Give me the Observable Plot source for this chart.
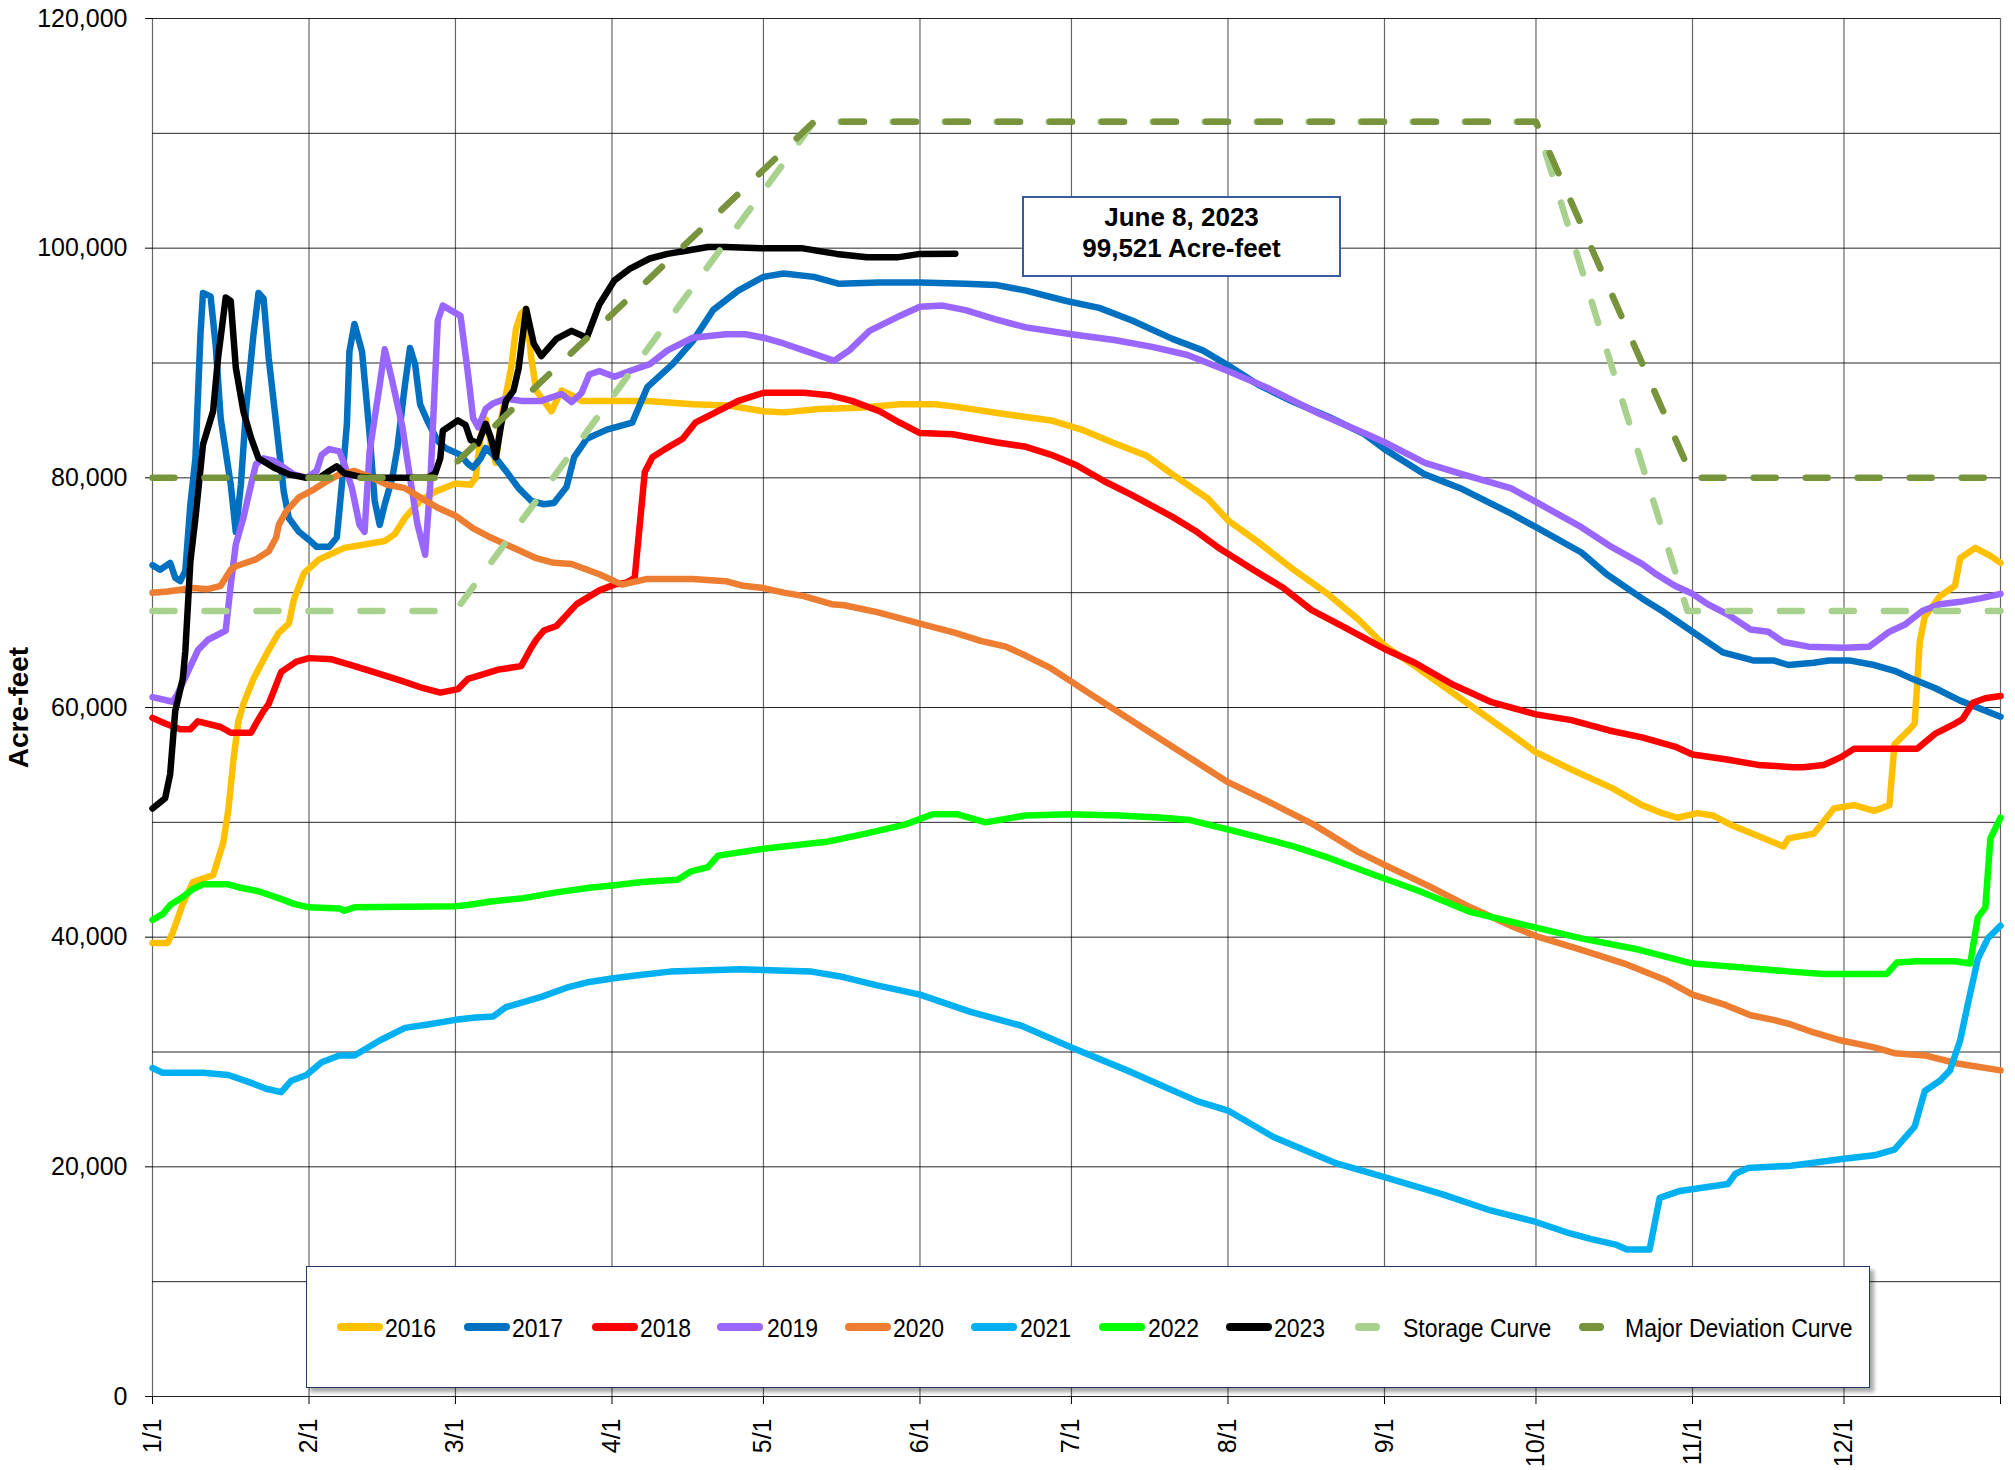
<!DOCTYPE html>
<html>
<head>
<meta charset="utf-8">
<script src="https://cdn.jsdelivr.net/npm/d3@7"></script>
<script src="https://cdn.jsdelivr.net/npm/@observablehq/plot@0.6"></script>
<style>
html, body { margin: 0; padding: 0; background: #fff; }
#wrap { position: relative; width: 2015px; height: 1470px; font-family: "Liberation Sans", Arial, sans-serif; }
#wrap svg { position: absolute; left: 0; top: 0; }
.legend { position: absolute; left: 306px; top: 1266px; width: 1564px; height: 122px; box-sizing: border-box;
  border: 1.5px solid #1F3864; background: #fff; box-shadow: 4px 4px 4px rgba(0,0,0,0.35); }
.sw { position: absolute; height: 8px; border-radius: 4px; top: 56px; }
.lt { position: absolute; top: 46px; height: 30px; line-height: 30px; font-size: 25px; color: #000;
  white-space: nowrap; transform: scaleX(0.92); transform-origin: left center; }
.note { position: absolute; left: 1022px; top: 196px; width: 319px; height: 81px; box-sizing: border-box;
  border: 2px solid #3A5A9E; background: #fff; padding-top: 4px; text-align: center;
  font-weight: bold; font-size: 26px; line-height: 31px; color: #000; }
</style>
</head>
<body>
<div id="wrap"></div>
<script>
// ---------- data (x = calendar day index from Jan 1, Feb counted as 28 days; y = acre-feet) ----------
const s2016 = [[0,39500],[3,39500],[4,40400],[6,42900],[8,44800],[12,45400],[14,48200],[15,51000],[16,55300],[17,58800],[18,60300],[20,62500],[23,65000],[25,66500],[27,67300],[28,69400],[30,71700],[33,72900],[35,73300],[38,73900],[42,74200],[46,74500],[48,75100],[50,76500],[53,78000],[56,78800],[59,79500],[62,79400],[63,80000],[64,83600],[65,85100],[66,83000],[67,81300],[68,85000],[70,89500],[71,93000],[72,94300],[73,94700],[74,90500],[75,87600],[77,86400],[78,85800],[80,87600],[82,87200],[84,86700],[90,86700],[97,86700],[106,86400],[113,86300],[120,85800],[124,85700],[131,86000],[139,86100],[147,86400],[154,86400],[158,86200],[167,85600],[177,85000],[183,84200],[189,83100],[196,81900],[201,80300],[208,78200],[212,76300],[218,74400],[225,72000],[232,69800],[238,67600],[243,65400],[249,63600],[259,60500],[268,57700],[273,56100],[280,54600],[288,53000],[294,51500],[298,50800],[301,50400],[305,50800],[308,50600],[312,49700],[317,48800],[322,47900],[323,48600],[328,49000],[330,50100],[332,51200],[336,51500],[340,51000],[343,51500],[344,56800],[347,58100],[348,58600],[349,65700],[350,67900],[353,69700],[356,70600],[357,73000],[360,73900],[363,73200],[365,72600]];

const s2017 = [[0,72400],[1.5,72000],[3.5,72600],[4.5,71300],[5.5,71000],[6.5,71900],[7.5,77700],[8.5,81700],[9.5,92500],[10,96100],[11.5,95800],[12.5,91600],[13.5,85200],[15.5,79400],[16.5,75300],[17.5,79400],[18.5,85800],[20,92500],[21,96100],[22,95600],[23,90500],[24.5,84700],[26,78800],[27,76500],[29,75300],[31,74600],[32.5,74000],[35,74000],[36.5,74800],[37.5,79400],[38.5,84700],[39,91000],[40,93400],[41.5,91000],[43,83800],[44,78000],[45,75900],[46,77700],[47.5,80000],[48.5,82600],[50,88100],[51,91300],[52,89900],[53,86400],[54.5,84900],[56.5,83200],[58,82600],[60,82000],[61.5,81200],[62.5,80900],[64,81700],[65,82600],[66.5,82000],[69,80600],[71.5,79100],[74,78000],[76.5,77700],[78.5,77800],[81,79200],[82.5,81800],[85,83400],[89,84200],[94,84800],[97,87900],[102,89900],[106,91900],[110,94600],[115,96300],[120,97500],[124,97800],[130,97500],[135,96900],[143,97000],[151,97000],[160,96900],[166,96800],[172,96300],[180,95400],[186.5,94800],[193,93700],[201,92100],[207,91100],[212,89800],[218,88100],[225,86600],[232,85300],[239,83800],[243,82500],[251,80300],[258,79100],[268,76900],[273,75700],[282,73500],[287,71600],[294,69500],[298,68400],[304,66600],[310,64800],[316,64100],[320,64100],[323,63700],[328,63900],[331,64100],[335,64100],[340,63700],[344,63200],[347,62600],[352,61700],[357,60600],[365,59200]];

const s2018 = [[0,59100],[2.5,58600],[5.5,58100],[7.5,58100],[9,58800],[13.5,58300],[15.5,57800],[19.5,57800],[20.5,58600],[22,59700],[23,60300],[25.5,63100],[28.5,64000],[31,64300],[35.5,64200],[40,63600],[44.5,63000],[49.5,62300],[53.5,61700],[57,61300],[59.5,61600],[61.5,62500],[67.5,63300],[72,63600],[74,65200],[75,65900],[76.5,66700],[79,67100],[83,69000],[87.5,70200],[90.5,70700],[93,70900],[94.5,71300],[96.5,80500],[98,81800],[100.5,82500],[104,83400],[106.5,84800],[110.5,85700],[115,86700],[120,87400],[128,87400],[133,87200],[137.5,86700],[143,85800],[147,84800],[151,83900],[157.5,83800],[166,83100],[172,82700],[177,82000],[182,81100],[187.5,79700],[193,78500],[201,76600],[205.5,75400],[210.5,73800],[217,72000],[223,70400],[228.5,68500],[235,67000],[243,65100],[249,63900],[256.5,62000],[264,60500],[273,59400],[280,58900],[287.5,58000],[294,57400],[300.5,56600],[304,55900],[310.5,55500],[317,55000],[324,54800],[326,54800],[330,55000],[333.5,55700],[336,56400],[348.5,56400],[352,57700],[356,58600],[357.5,59000],[359.5,60400],[362,60800],[365,61000]];

const s2019 = [[0,60900],[4,60500],[5,61200],[7,63100],[9,65000],[11,65900],[14.5,66700],[15.5,70700],[16.5,74200],[18,76500],[19.5,79400],[20.5,81200],[22,81700],[24,81500],[26,80900],[28,80300],[30.5,80000],[32.5,80600],[33.5,82000],[35,82500],[37,82300],[38,81200],[39.5,79100],[41,75900],[42,75300],[43,82300],[45,88100],[46,91200],[47.5,88400],[49.5,84400],[51,80000],[52.5,75900],[54,73300],[55,79400],[56.5,93700],[57.5,95000],[60,94100],[61.5,89000],[62.5,85200],[63.5,84400],[65,86000],[66.5,86500],[69,86900],[72,86700],[76,86700],[80,87300],[82,86600],[84,87400],[85.5,89000],[87.5,89300],[90.5,88800],[93.5,89300],[97.5,89900],[101,91100],[106,92200],[112.5,92500],[116.5,92500],[120,92200],[124,91700],[128,91100],[134,90200],[137,91100],[141,92800],[146.5,94000],[151,94900],[155.5,95000],[160,94600],[166,93800],[172,93100],[181,92500],[189.5,92000],[197,91400],[204,90700],[212,89300],[220,87800],[230,85600],[239.5,83800],[243,83100],[251,81300],[258.5,80300],[268,79100],[273,77900],[282,75700],[287.5,74100],[294,72500],[296.5,71700],[300.5,70600],[304,69900],[307,69000],[311,68100],[315.5,66800],[319,66600],[322,65700],[327,65300],[334,65200],[339,65300],[343,66600],[346,67200],[349.5,68400],[353,69000],[357,69200],[361,69500],[365,69900]];

const s2020 = [[0,70000],[3,70100],[8,70400],[11,70300],[13.5,70600],[15.5,72000],[16.5,72300],[20.5,72900],[23,73600],[24.5,74800],[25,75900],[26.5,77100],[29,78300],[32,79000],[34.5,79700],[37,80300],[40,80600],[43.5,80000],[46.5,79400],[50,79100],[53,78300],[56.5,77400],[59,76700],[62.5,75600],[66,74800],[69,74200],[72,73600],[75,73000],[78.5,72600],[82,72500],[87.5,71600],[92,70700],[97,71200],[106,71200],[112.5,71000],[116,70600],[120,70400],[124,70000],[128,69700],[133.5,69000],[136,68900],[142.5,68300],[151,67300],[158,66500],[163,65800],[168,65300],[172,64500],[177,63400],[185,61100],[193.5,58700],[204.5,55600],[212,53500],[220.5,51700],[229,49800],[237.5,47500],[243,46300],[252,44400],[260,42600],[268.5,40900],[273,40100],[282,38900],[290.5,37700],[299,36200],[304,35000],[310.5,34100],[315.5,33200],[320,32800],[323.5,32400],[328,31700],[333.5,31000],[340,30400],[344,29900],[350,29700],[356.5,29000],[365,28400]];

const s2021 = [[0,28600],[2,28200],[10,28200],[15,28000],[19,27400],[22.5,26800],[25.5,26500],[27.5,27500],[30.5,28000],[33.5,29100],[37,29700],[40,29700],[45,31000],[50,32100],[54.5,32400],[59,32800],[63,33000],[66.5,33100],[69,33900],[76,34800],[81,35600],[85.5,36100],[90,36400],[95.5,36700],[101.5,37000],[115.5,37200],[129.5,37000],[135,36600],[142.5,35800],[151,35000],[161,33500],[171,32300],[181,30400],[192,28400],[206,25700],[212,24900],[221,22600],[233.5,20300],[243,19100],[254.5,17600],[264,16200],[273,15200],[279,14300],[284,13700],[289,13200],[291,12800],[295.5,12800],[297.5,17300],[301.5,17900],[311,18500],[312.5,19400],[315,19900],[323.5,20100],[334,20700],[340,21000],[344,21500],[348,23500],[350,26600],[353,27500],[355,28400],[357,31000],[358.5,34100],[360.5,38100],[362.5,39900],[365,41000]];

const s2022 = [[0,41500],[2,42000],[3.5,42800],[6,43500],[8,44200],[10,44600],[15,44600],[17.5,44300],[21,44000],[25,43400],[28,42900],[31,42600],[37,42500],[38,42300],[40,42600],[59,42700],[61.5,42800],[66,43100],[72.5,43400],[79,43900],[85.5,44300],[90,44500],[96,44800],[103,45000],[105.5,45700],[109,46100],[111,47100],[120,47700],[128,48100],[132.5,48300],[140,49000],[148,49800],[153.5,50700],[158.5,50700],[164,50000],[172,50600],[180.5,50700],[190.5,50600],[199,50400],[204.5,50200],[215.5,49000],[225,47900],[232,46900],[240.5,45500],[250,44000],[260,42200],[268.5,41300],[282,39900],[293.5,38900],[304,37700],[310,37500],[315.5,37300],[323.5,37000],[330,36800],[342.5,36800],[344.5,37800],[348.5,37900],[356,37900],[359,37700],[360.5,41700],[362,42600],[363,48600],[365,50400]];

const s2023 = [[0,51200],[2.5,52100],[3.5,54200],[4.5,59700],[6,62500],[6.5,64900],[7.5,72700],[8.5,76500],[10,82900],[12,85800],[13,90500],[14.5,95700],[15.5,95400],[16.5,89600],[18,85800],[19.5,83500],[21,81700],[24,80900],[27,80300],[30.5,80000],[33,80000],[35,80600],[36.5,81000],[38,80400],[41,80100],[43.5,80000],[50,80000],[54.5,80000],[56,80400],[57,81700],[57.5,84100],[59.5,85000],[61,84600],[62,83300],[63.5,83000],[65,84700],[66,83500],[67,81800],[68,84500],[69,86700],[70.5,87600],[71.5,89500],[73,94700],[74.5,91700],[76,90600],[79,92100],[82,92800],[85,92200],[87.5,95100],[90.5,97200],[93.5,98200],[97.5,99100],[101,99500],[105,99800],[109,100100],[112.5,100100],[119.5,100000],[127.5,100000],[134.5,99500],[140.5,99200],[146.5,99200],[151,99500],[158,99521]];

const storageCurve = [[0,68400],[59,68400],[130,111000],[273,111000],[303,68400],[365,68400]];
const majorDeviationCurve = [[0,80000],[57,80000],[130,111000],[273,111000],[304,80000],[365,80000]];

const seriesNames  = ["2016","2017","2018","2019","2020","2021","2022","2023","Storage Curve","Major Deviation Curve"];
const seriesColors = ["#FFC000","#0070C0","#FF0000","#9966FF","#ED7D31","#00B0F0","#00FF00","#000000","#A9D18E","#77933C"];
const seriesData   = [s2016, s2017, s2018, s2019, s2020, s2021, s2022, s2023, storageCurve, majorDeviationCurve];
const dashedSeries = ["Storage Curve","Major Deviation Curve"];

const monthTickDays = [0,31,59,90,120,151,181,212,243,273,304,334,365];
const monthLabels   = ["1/1","2/1","3/1","4/1","5/1","6/1","7/1","8/1","9/1","10/1","11/1","12/1"];
const yTickValues   = [0,20000,40000,60000,80000,100000,120000];
const yGridValues   = [0,10000,20000,30000,40000,50000,60000,70000,80000,90000,100000,110000,120000];
const yAxisLabel    = "Acre-feet";
const noteLines     = ["June 8, 2023","99,521 Acre-feet"];

// ---------- build ----------
// The chart's date axis is a leap-year calendar (Feb 29 present); day indices above count Feb as 28 days.
const JAN1 = Date.UTC(2020, 0, 1);
const toDate = d => new Date(JAN1 + (d >= 59 ? d + 1 : d) * 864e5);
const monthTicks = monthTickDays.map(toDate);
const labelFor = d => { const i = monthTicks.findIndex(t => +t === +d); return i >= 0 && i < monthLabels.length ? monthLabels[i] : ""; };

const lineMarks = seriesNames.map((name, i) => {
  const rows = seriesData[i].map(([d, v]) => ({date: toDate(d), value: v}));
  const dashed = dashedSeries.includes(name);
  return Plot.line(rows, {
    x: "date", y: "value", stroke: seriesColors[i],
    strokeWidth: 6.5,
    strokeLinejoin: "round", strokeLinecap: "round",
    strokeDasharray: dashed ? "22,30" : null
  });
});

const chart = Plot.plot({
  width: 2015, height: 1470,
  marginLeft: 152, marginRight: 15, marginTop: 18, marginBottom: 74,
  style: {fontFamily: "'Liberation Sans', Arial, sans-serif", fontSize: "25px", background: "#fff", color: "#000", overflow: "visible"},
  x: {type: "utc", domain: [toDate(0), toDate(365)], label: null},
  y: {domain: [0, 120000], label: null},
  marks: [
    Plot.ruleY(yGridValues, {stroke: "#000", strokeOpacity: 0.85, strokeWidth: 1}),
    Plot.ruleX(monthTicks, {stroke: "#000", strokeOpacity: 0.6, strokeWidth: 1.2}),
    Plot.axisY(yTickValues, {tickFormat: d3.format(","), tickSize: 7, tickPadding: 18, fontSize: 25, label: null}),
    Plot.axisX(monthTicks, {tickFormat: labelFor, tickRotate: -90, tickSize: 8, tickPadding: 14, fontSize: 25, label: null}),
    Plot.text([yAxisLabel], {frameAnchor: "left", dx: -133, rotate: -90, textAnchor: "middle", fontWeight: "bold", fontSize: 28}),
    ...lineMarks
  ]
});

const wrap = document.getElementById("wrap");
wrap.appendChild(chart);

// annotation box
const note = document.createElement("div");
note.className = "note";
note.innerHTML = noteLines.join("<br>");
wrap.appendChild(note);

// legend box
const legend = document.createElement("div");
legend.className = "legend";
const swatchLeft = [30,157,285,410,538,664,792,919,1048,1272];
const textLeft   = [78,205,333,460,586,713,841,967,1096,1318];
seriesNames.forEach((name, i) => {
  const dashed = dashedSeries.includes(name);
  const sw = document.createElement("div");
  sw.className = "sw";
  sw.style.left = swatchLeft[i] + "px";
  sw.style.width = (dashed ? 25 : 46) + "px";
  sw.style.background = seriesColors[i];
  legend.appendChild(sw);
  const t = document.createElement("div");
  t.className = "lt";
  t.style.left = textLeft[i] + "px";
  t.textContent = name;
  legend.appendChild(t);
});
wrap.appendChild(legend);
</script>
</body>
</html>
